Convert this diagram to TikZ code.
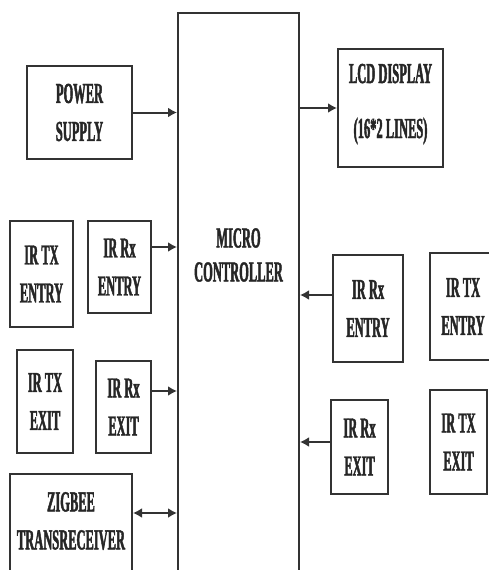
\documentclass[tikz,border=0pt]{standalone}
\usepackage{fontspec}
\newfontfamily\cond[FakeStretch=0.43,FakeBold=1.5]{Liberation Serif Bold}
\usetikzlibrary{arrows.meta}
\begin{document}
\begin{tikzpicture}[x=1pt,y=-1pt,
  blk/.style={draw=black!80, line width=2pt, inner sep=0pt},
  lbl/.style={font=\cond\fontsize{29}{38}\selectfont, text=black!85, align=center},
  arr/.style={draw=black!80, line width=2pt, -{Latex[length=9pt,width=10pt]}},
  darr/.style={draw=black!80, line width=2pt, {Latex[length=9pt,width=10pt]}-{Latex[length=9pt,width=10pt]}}]
\useasboundingbox (0,0) rectangle (489,570);

% micro controller (open at bottom, extends past page)
\node[blk, minimum width=121pt, minimum height=587pt] (mc) at (238.5,306.5) {};
\node[lbl, font=\cond\fontsize{29}{34}\selectfont] (mctext) at (238.5,255) {MICRO\\CONTROLLER};

% left side
\node[blk, lbl, minimum width=105pt, minimum height=93pt] (ps) at (79.5,112.5) {POWER\\SUPPLY};
\node[blk, lbl, minimum width=63pt, minimum height=106pt] (txenL) at (41.5,274) {IR TX\\ENTRY};
\node[blk, lbl, minimum width=63pt, minimum height=92pt] (rxenL) at (119.5,267) {IR Rx\\ENTRY};
\node[blk, lbl, minimum width=56pt, minimum height=103pt] (txexL) at (45,401.5) {IR TX\\EXIT};
\node[blk, lbl, minimum width=55pt, minimum height=92pt] (rxexL) at (123.5,407) {IR Rx\\EXIT};
\node[blk, minimum width=122pt, minimum height=126pt] (zig) at (71,537) {};
\node[lbl] (zigtext) at (71,521) {ZIGBEE\\TRANSRECEIVER};

% right side
\node[blk, minimum width=105pt, minimum height=118pt] (lcd) at (390.5,108) {};
\node[lbl, font=\cond\fontsize{29}{55}\selectfont] (lcdtext) at (390.5,104) {LCD DISPLAY\\(16*2 LINES)};
\node[blk, lbl, minimum width=70pt, minimum height=107pt] (rxenR) at (368,308.5) {IR Rx\\ENTRY};
\node[blk, lbl, minimum width=66pt, minimum height=107pt] (txenR) at (463,306.5) {IR TX\\ENTRY};
\node[blk, lbl, minimum width=57pt, minimum height=94pt] (rxexR) at (359.5,447) {IR Rx\\EXIT};
\node[blk, lbl, minimum width=57pt, minimum height=104pt] (txexR) at (458.5,442) {IR TX\\EXIT};

% connectors
\draw[arr] (ps.east) -- (ps.east -| mc.west);
\draw[arr] ([yshift=20pt]rxenL.east) -- ([yshift=20pt]rxenL.east -| mc.west);
\draw[arr] ([yshift=16pt]rxexL.east) -- ([yshift=16pt]rxexL.east -| mc.west);
\draw[darr] ([yshift=24pt]zig.east) -- ([yshift=24pt]zig.east -| mc.west);
\draw[arr] (lcd.west -| mc.east) -- (lcd.west);
\draw[arr] ([yshift=13.5pt]rxenR.west) -- ([yshift=13.5pt]rxenR.west -| mc.east);
\draw[arr] ([yshift=5pt]rxexR.west) -- ([yshift=5pt]rxexR.west -| mc.east);
\end{tikzpicture}
\end{document}
